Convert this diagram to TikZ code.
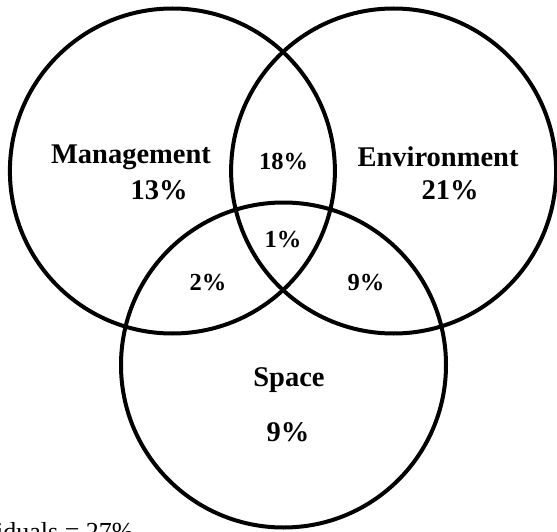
\documentclass[tikz,border=0pt]{standalone}
\usepackage{fontspec}
\setmainfont{Liberation Serif}
\begin{document}
\begin{tikzpicture}[x=1pt,y=-1pt,
  ring/.style={draw=black,line width=4pt,circle,inner sep=0pt},
  big/.style={font=\fontsize{28.5}{32}\selectfont\bfseries,inner sep=0pt},
  small/.style={font=\fontsize{24.5}{28}\selectfont\bfseries,inner sep=0pt}]
\useasboundingbox (0,0) rectangle (557,532);
\clip (0,0) rectangle (557,532);
\fill[white] (0,0) rectangle (557,532);
\node[ring,minimum size=325pt] (man) at (172.4,171) {};
\node[ring,minimum size=325pt] (env) at (393.6,171) {};
\node[ring,minimum size=325pt] (spa) at (283.5,365) {};
\node[big] (mname) at (131,157) {Management};
\node[big] (mval) at (159,190) {13\%};
\node[big] (ename) at (438,157) {Environment};
\node[big] (eval) at (450,190) {21\%};
\node[small] (me) at (283.5,162) {18\%};
\node[small] (mes) at (283,240) {1\%};
\node[small] (ms) at (208,283) {2\%};
\node[small] (es) at (366,283) {9\%};
\node[big] (sname) at (289,380) {Space};
\node[big] (sval) at (288,432) {9\%};
\node[font=\fontsize{26}{30}\selectfont,inner sep=0pt,anchor=base west] (res) at (-43,540) {Residuals = 27\%};
\end{tikzpicture}
\end{document}
